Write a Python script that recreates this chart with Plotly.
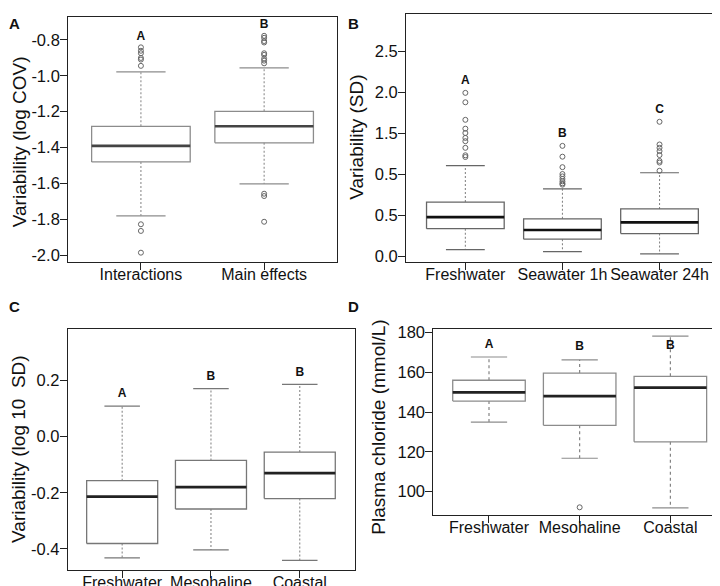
import plotly.graph_objects as go

W, H = 720, 586

# ---------------- Panel A ----------------
a_cats = ["Interactions", "Main effects"]
a_q1 = [-1.479, -1.373]
a_med = [-1.390, -1.281]
a_q3 = [-1.281, -1.198]
a_lo = [-1.779, -1.601]
a_hi = [-0.978, -0.956]
a_out = [[-0.842, -0.861, -0.875, -0.901, -0.910, -0.945, -1.826, -1.863, -1.984],
         [-0.778, -0.789, -0.807, -0.815, -0.875, -0.884, -0.905, -0.916, -0.931,
          -1.656, -1.669, -1.812]]
a_letters = ["A", "B"]
a_letter_y = [-0.782, -0.718]
a_ytickvals = [-2.0, -1.8, -1.6, -1.4, -1.2, -1.0, -0.8]
a_yticktext = ["-2.0", "-1.8", "-1.6", "-1.4", "-1.2", "-1.0", "-0.8"]

# ---------------- Panel B ----------------
b_cats = ["Freshwater", "Seawater 1h", "Seawater 24h"]
b_q1 = [0.337, 0.209, 0.277]
b_med = [0.478, 0.321, 0.414]
b_q3 = [0.662, 0.457, 0.578]
b_lo = [0.081, 0.057, 0.029]
b_hi = [1.107, 0.823, 1.020]
b_out = [[1.995, 1.880, 1.666, 1.558, 1.505, 1.445, 1.405, 1.324, 1.233, 1.212],
         [1.348, 1.216, 1.088, 1.004, 0.975, 0.944, 0.915, 0.891, 0.875],
         [1.642, 1.365, 1.324, 1.284, 1.236, 1.164, 1.144, 1.044]]
b_letters = ["A", "B", "C"]
b_letter_y = [2.135, 1.493, 1.786]
b_ytickvals = [0.0, 0.5, 1.0, 1.5, 2.0, 2.5]
b_yticktext = ["0.0", "0.5", "0.5", "1.5", "2.0", "2.5"]

# ---------------- Panel C ----------------
c_cats = ["Freshwater", "Mesohaline", "Coastal"]
c_q1 = [-0.381, -0.258, -0.221]
c_med = [-0.214, -0.180, -0.130]
c_q3 = [-0.157, -0.085, -0.055]
c_lo = [-0.432, -0.404, -0.441]
c_hi = [0.109, 0.171, 0.186]
c_out = [[], [], []]
c_letters = ["A", "B", "B"]
c_letter_y = [0.153, 0.214, 0.227]
c_ytickvals = [-0.4, -0.2, 0.0, 0.2]
c_yticktext = ["-0.4", "-0.2", "0.0", "0.2"]

# ---------------- Panel D ----------------
d_cats = ["Freshwater", "Mesohaline", "Coastal"]
d_q1 = [145.5, 133.3, 125.0]
d_med = [149.9, 148.0, 152.3]
d_q3 = [156.0, 159.6, 158.0]
d_lo = [134.9, 116.7, 91.7]
d_hi = [167.7, 166.3, 178.2]
d_out = [[], [92.0], []]
d_letters = ["A", "B", "B"]
d_letter_y = [173.7, 172.5, 173.2]
d_ytickvals = [100, 120, 140, 160, 180]
d_yticktext = ["100", "120", "140", "160", "180"]

FONT = "Arial, Liberation Sans, sans-serif"
fig = go.Figure()


def add_panel(n, cats, q1, med, q3, lo, hi, outs, letters, ly, box_col, med_col, whisk_col, dash):
    xa = "x" if n == 1 else f"x{n}"
    ya = "y" if n == 1 else f"y{n}"
    bw = 0.8
    bx, by, mx, my, wx, wy, sx, sy = [], [], [], [], [], [], [], []
    ox, oy = [], []
    for i in range(len(cats)):
        p = i + 1
        bx += [p - bw / 2, p + bw / 2, p + bw / 2, p - bw / 2, p - bw / 2, None]
        by += [q1[i], q1[i], q3[i], q3[i], q1[i], None]
        mx += [p - bw / 2, p + bw / 2, None]
        my += [med[i], med[i], None]
        wx += [p, p, None, p, p, None]
        wy += [q3[i], hi[i], None, q1[i], lo[i], None]
        sx += [p - bw / 4, p + bw / 4, None, p - bw / 4, p + bw / 4, None]
        sy += [hi[i], hi[i], None, lo[i], lo[i], None]
        for v in outs[i]:
            ox.append(p)
            oy.append(v)
    common = dict(xaxis=xa, yaxis=ya, showlegend=False, hoverinfo="skip")
    fig.add_trace(go.Scatter(x=wx, y=wy, mode="lines",
                             line=dict(color=whisk_col, width=1.1, dash=dash), **common))
    fig.add_trace(go.Scatter(x=sx, y=sy, mode="lines",
                             line=dict(color=box_col, width=1.2), **common))
    fig.add_trace(go.Scatter(x=bx, y=by, mode="lines",
                             line=dict(color=box_col, width=1.3), **common))
    fig.add_trace(go.Scatter(x=mx, y=my, mode="lines",
                             line=dict(color=med_col, width=2.6), **common))
    if ox:
        fig.add_trace(go.Scatter(x=ox, y=oy, mode="markers",
                                 marker=dict(symbol="circle-open", size=5, color="#666",
                                             line=dict(width=1)), **common))
    fig.add_trace(go.Scatter(x=list(range(1, len(cats) + 1)), y=ly, mode="text",
                             text=[f"<b>{t}</b>" for t in letters],
                             textfont=dict(family=FONT, size=12, color="#111"), **common))


add_panel(1, a_cats, a_q1, a_med, a_q3, a_lo, a_hi, a_out, a_letters, a_letter_y,
          "#8c8c8c", "#444444", "#8c8c8c", "2px,2px")
add_panel(2, b_cats, b_q1, b_med, b_q3, b_lo, b_hi, b_out, b_letters, b_letter_y,
          "#666666", "#111111", "#888888", "2px,2px")
add_panel(3, c_cats, c_q1, c_med, c_q3, c_lo, c_hi, c_out, c_letters, c_letter_y,
          "#777777", "#222222", "#888888", "2px,2px")
add_panel(4, d_cats, d_q1, d_med, d_q3, d_lo, d_hi, d_out, d_letters, d_letter_y,
          "#8c8c8c", "#222222", "#777777", "3px,3px")


def px_dom_x(a, b):
    return [a / W, b / W]


def px_dom_y(top, bot):
    return [1 - bot / H, 1 - top / H]


axis_common = dict(showline=True, mirror=True, linecolor="#222", linewidth=1.2,
                   ticks="outside", ticklen=7, tickcolor="#222", tickwidth=1,
                   showgrid=False, zeroline=False)

panels = [
    # n, xdomain, ydomain, xrange, yrange, cats, ytickvals, yticktext
    (1, px_dom_x(60.3, 329.3), px_dom_y(4, 252.3), [0.41, 2.59], [-2.035, -0.673],
     a_cats, a_ytickvals, a_yticktext),
    (2, px_dom_x(398.7, 712.7), px_dom_y(1, 252.3), [0.39, 3.62], [-0.068, 2.958],
     b_cats, b_ytickvals, b_yticktext),
    (3, px_dom_x(60.0, 347.3), px_dom_y(320, 564.3), [0.389, 3.62], [-0.474, 0.385],
     c_cats, c_ytickvals, c_yticktext),
    (4, px_dom_x(426.0, 719.3), px_dom_y(320, 509), [0.387, 3.617], [88.1, 182.0],
     d_cats, d_ytickvals, d_yticktext),
]

layout = dict(width=W, height=H, margin=dict(l=0, r=0, t=0, b=0),
              paper_bgcolor="white", plot_bgcolor="white", showlegend=False)
for n, xd, yd, xr, yr, cats, tv, tt in panels:
    xk = "xaxis" if n == 1 else f"xaxis{n}"
    yk = "yaxis" if n == 1 else f"yaxis{n}"
    ya = "y" if n == 1 else f"y{n}"
    xa = "x" if n == 1 else f"x{n}"
    layout[xk] = dict(domain=xd, anchor=ya, range=xr, tickangle=0,
                      tickvals=list(range(1, len(cats) + 1)), ticktext=cats,
                      ticklabelstandoff=-9,
                      tickfont=dict(family=FONT, size=16, color="#111"), **axis_common)
    layout[yk] = dict(domain=yd, anchor=xa, range=yr, tickvals=tv, ticktext=tt,
                      ticklabelstandoff=-3,
                      tickfont=dict(family=FONT, size=16.5, color="#111"), **axis_common)

fig.update_layout(**layout)

# y-axis titles (centre position in px)
ytitles = [
    ("Variability (log COV)", 11, 130),
    ("Variability (SD)", 349, 126),
    ("Variability (log 10  SD)", 11, 442),
    ("Plasma chloride (mmol/L)", 371, 420),
]
for txt, xc, yc in ytitles:
    fig.add_annotation(text=txt.replace("  ", "&nbsp; "), x=xc / W, y=1 - yc / H,
                       xref="paper", yref="paper",
                       showarrow=False, textangle=-90, xanchor="center", yanchor="middle",
                       font=dict(family=FONT, size=19, color="#111"))

# panel letters
for lab, xc, yc in [("A", 7, 11), ("B", 346, 11), ("C", 7, 298), ("D", 346, 298)]:
    fig.add_annotation(text=f"<b>{lab}</b>", x=xc / W, y=1 - yc / H, xref="paper", yref="paper",
                       showarrow=False, xanchor="center", yanchor="middle",
                       font=dict(family=FONT, size=15, color="#111"))

fig.write_html("out.html")
